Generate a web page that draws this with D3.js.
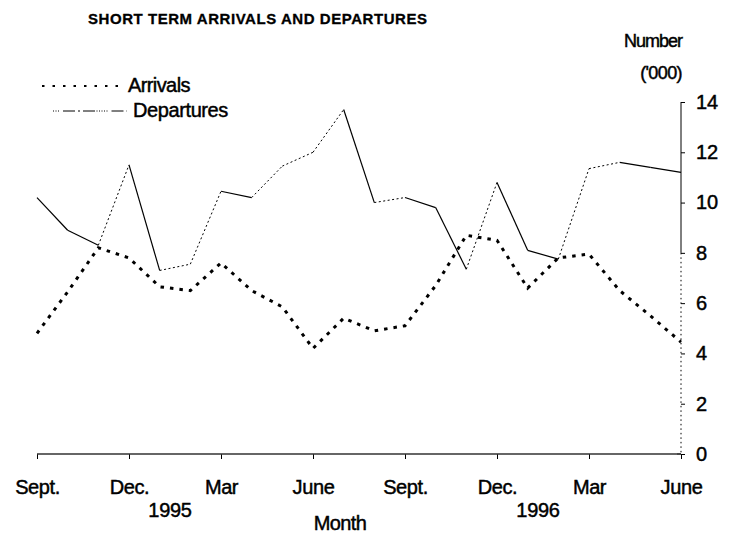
<!DOCTYPE html>
<html><head><meta charset="utf-8">
<script src="https://cdn.jsdelivr.net/npm/d3@7"></script>
<style>
body{margin:0;background:#fff;}
text{font-family:"Liberation Sans",Arial,sans-serif;fill:#000;stroke:#000;stroke-width:0.45px;}
</style></head>
<body>
<script>
// ---- data ----
const months = ["Sep 1994","Oct 1994","Nov 1994","Dec 1994","Jan 1995","Feb 1995","Mar 1995","Apr 1995","May 1995","Jun 1995","Jul 1995","Aug 1995","Sep 1995","Oct 1995","Nov 1995","Dec 1995","Jan 1996","Feb 1996","Mar 1996","Apr 1996","May 1996","Jun 1996"];
const arrivals   = [4.8, 6.45, 8.2, 7.8, 6.65, 6.5, 7.6, 6.5, 5.85, 4.2, 5.4, 4.9, 5.1, 6.7, 8.7, 8.5, 6.6, 7.8, 7.95, 6.5, 5.5, 4.45];
const departures = [10.2, 8.9, 8.3, 11.5, 7.3, 7.55, 10.45, 10.2, 11.45, 12.0, 13.7, 10.0, 10.2, 9.8, 7.35, 10.8, 8.1, 7.75, 11.35, 11.6, 11.4, 11.2];
const xTickIndex  = [0, 3, 6, 9, 12, 15, 18, 21];
const xTickLabels = ["Sept.","Dec.","Mar","June","Sept.","Dec.","Mar","June"];
const yearLabels  = ["1995","1996"];
const yTicks      = [0, 2, 4, 6, 8, 10, 12, 14];
const title = "SHORT TERM ARRIVALS AND DEPARTURES";

// ---- chart ----
const W = 735, H = 533;
const svg = d3.select("body").append("svg").attr("width", W).attr("height", H);
const x = d3.scaleLinear().domain([0, months.length - 1]).range([37, 681]);
const y = d3.scaleLinear().domain([0, 14]).range([454, 102]);

// title
svg.append("text").attr("x", 88).attr("y", 24)
  .attr("font-size", 15).attr("font-weight", "bold").style("stroke-width", "0.3px")
  .attr("textLength", 339).attr("lengthAdjust", "spacing")
  .text(title);

// y-axis unit label
svg.append("text").attr("x", 682).attr("y", 47).attr("text-anchor", "end")
  .attr("font-size", 18).attr("letter-spacing", -1).text("Number");
svg.append("text").attr("x", 682).attr("y", 79).attr("text-anchor", "end")
  .attr("font-size", 18).attr("letter-spacing", -0.6).text("('000)");

// right axis
const yAxis = d3.axisRight(y).tickValues(yTicks).tickSize(4).tickPadding(11).tickFormat(d3.format("d"));
const gy = svg.append("g").attr("transform", `translate(${x.range()[1]},0)`).call(yAxis);
gy.select(".domain").remove();
gy.selectAll("text").attr("font-size", 20).attr("font-family", "Liberation Sans, Arial, sans-serif").attr("letter-spacing", -0.2);
gy.selectAll("line").attr("stroke", "#000");
// zero tick crosses the axis
gy.append("line").attr("x1", -4).attr("x2", 0).attr("y1", y(0)).attr("y2", y(0)).attr("stroke", "#000");
// axis line: solid upper part, dotted lower part
gy.append("line").attr("x1", 0).attr("x2", 0).attr("y1", y(14)).attr("y2", y(8)).attr("stroke", "#000");
gy.append("line").attr("x1", 0).attr("x2", 0).attr("y1", y(8)).attr("y2", y(0))
  .attr("stroke", "#000").attr("stroke-dasharray", "1.5,3");

// bottom axis
const xAxis = d3.axisBottom(x).tickValues(xTickIndex)
  .tickFormat((d, i) => xTickLabels[i]).tickSize(5).tickPadding(21);
const gx = svg.append("g").attr("transform", `translate(0,${y(0)})`).call(xAxis);
gx.select(".domain").remove();
gx.append("line").attr("x1", x.range()[0]).attr("x2", x.range()[1]).attr("y1", 0).attr("y2", 0)
  .attr("stroke", "#333").attr("stroke-width", 1.5);
gx.selectAll("text").attr("font-size", 20).attr("font-family", "Liberation Sans, Arial, sans-serif").attr("letter-spacing", -0.4);
gx.selectAll(".tick line").attr("stroke", "#000");

// year labels (between Dec. and Mar)
[[3, 6], [15, 18]].forEach((p, i) => {
  svg.append("text").attr("x", (x(p[0]) + x(p[1])) / 2 - 5).attr("y", 517)
    .attr("text-anchor", "middle").attr("font-size", 20).attr("letter-spacing", -0.3)
    .text(yearLabels[i]);
});
svg.append("text").attr("x", 340).attr("y", 530).attr("text-anchor", "middle")
  .attr("font-size", 20).attr("letter-spacing", -0.6).text("Month");

// departures: draw segment by segment (rising parts rendered dotted as in the print)
const dep = departures.map((v, i) => [i, v]);
for (let i = 0; i < dep.length - 1; i++) {
  const a = dep[i], b = dep[i + 1];
  const rising = b[1] > a[1];
  svg.append("line")
    .attr("x1", x(a[0])).attr("y1", y(a[1])).attr("x2", x(b[0])).attr("y2", y(b[1]))
    .attr("stroke", "#000").attr("stroke-width", rising ? 1 : 1.2)
    .attr("stroke-dasharray", rising ? "2,2.5" : null);
}

// arrivals: heavy dotted line
const line = d3.line().x((d, i) => x(i)).y(d => y(d));
svg.append("path").datum(arrivals).attr("d", line)
  .attr("fill", "none").attr("stroke", "#000").attr("stroke-width", 3)
  .attr("stroke-dasharray", "3.5,6");

// legend
const lg = svg.append("g");
lg.append("line").attr("x1", 42).attr("x2", 122).attr("y1", 86).attr("y2", 86)
  .attr("stroke", "#000").attr("stroke-width", 2).attr("stroke-dasharray", "2.5,8");
lg.append("text").attr("x", 128).attr("y", 92).attr("font-size", 20).attr("letter-spacing", -0.6).text("Arrivals");
lg.append("line").attr("x1", 53).attr("x2", 127).attr("y1", 111).attr("y2", 111)
  .attr("stroke", "#000").attr("stroke-width", 1).attr("stroke-dasharray", "1,1.5,1,1.5,1,4,12,3,2,3,12,1.5,1,1.5,1,1.5");
lg.append("text").attr("x", 133).attr("y", 117).attr("font-size", 20).attr("letter-spacing", -0.4).text("Departures");
</script>
</body></html>
